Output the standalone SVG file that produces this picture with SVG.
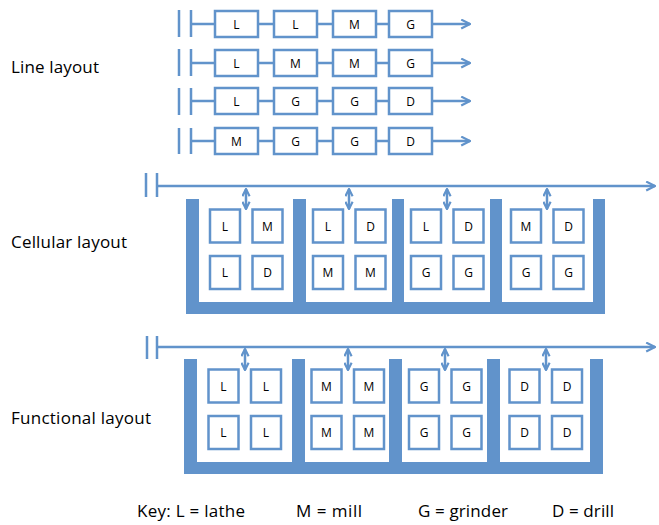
<svg xmlns="http://www.w3.org/2000/svg" width="659" height="525" viewBox="0 0 659 525">
<defs>
<style>
.ln{stroke:#6193CB;stroke-width:2.5;fill:none}
.box{fill:#fff;stroke:#6193CB;stroke-width:2.5}
.wall{fill:#6193CB}
.t{font-family:"Open Sans","Liberation Sans",sans-serif;font-size:12px;fill:#000;text-anchor:middle}
.lbl{font-family:"Open Sans","Liberation Sans",sans-serif;font-size:17px;fill:#000}
</style>
<marker id="ah" viewBox="0 0 10 10" refX="9" refY="5" markerWidth="11" markerHeight="11" markerUnits="userSpaceOnUse" orient="auto">
<path d="M1,1 L9,5 L1,9" fill="none" stroke="#6193CB" stroke-width="2"/>
</marker>
<marker id="dh" viewBox="0 0 10 10" refX="9" refY="5" markerWidth="9" markerHeight="9" markerUnits="userSpaceOnUse" orient="auto-start-reverse">
<path d="M1,1 L9,5 L1,9" fill="none" stroke="#6193CB" stroke-width="2.4"/>
</marker>
</defs>
<rect width="659" height="525" fill="#fff"/>

<g id="labels">
<text class="lbl" x="11" y="73" textLength="88">Line layout</text>
<text class="lbl" x="11" y="248" textLength="116">Cellular layout</text>
<text class="lbl" x="11" y="424" textLength="140">Functional layout</text>
</g>

<g id="connectors">
<path class="ln" d="M179,10V37 M191,10V37 M191,24H215 M258,24H274 M317,24H333 M376,24H389"/>
<path class="ln" d="M432,24H470" marker-end="url(#ah)"/>
<path class="ln" d="M179,49V76 M191,49V76 M191,63H215 M258,63H274 M317,63H333 M376,63H389"/>
<path class="ln" d="M432,63H470" marker-end="url(#ah)"/>
<path class="ln" d="M179,88V115 M191,88V115 M191,101H215 M258,101H274 M317,101H333 M376,101H389"/>
<path class="ln" d="M432,101H470" marker-end="url(#ah)"/>
<path class="ln" d="M179,128V154 M191,128V154 M191,141H215 M258,141H274 M317,141H333 M376,141H389"/>
<path class="ln" d="M432,141H470" marker-end="url(#ah)"/>
<path class="ln" d="M146,173V197 M157,173V197"/>
<path class="ln" d="M157,186H655" marker-end="url(#ah)"/>
<path class="ln" d="M246,189V209" marker-start="url(#dh)" marker-end="url(#dh)"/>
<path class="ln" d="M349,189V209" marker-start="url(#dh)" marker-end="url(#dh)"/>
<path class="ln" d="M447,189V209" marker-start="url(#dh)" marker-end="url(#dh)"/>
<path class="ln" d="M547,189V209" marker-start="url(#dh)" marker-end="url(#dh)"/>
<path class="ln" d="M147,336V359 M157,336V359"/>
<path class="ln" d="M157,347H655" marker-end="url(#ah)"/>
<path class="ln" d="M245,349V370" marker-start="url(#dh)" marker-end="url(#dh)"/>
<path class="ln" d="M348,349V370" marker-start="url(#dh)" marker-end="url(#dh)"/>
<path class="ln" d="M445,349V370" marker-start="url(#dh)" marker-end="url(#dh)"/>
<path class="ln" d="M546,349V370" marker-start="url(#dh)" marker-end="url(#dh)"/>
</g>

<g id="line-row1">
<rect class="box" x="215" y="11" width="43" height="26"/><text class="t" x="236.5" y="28.5">L</text>
<rect class="box" x="274" y="11" width="43" height="26"/><text class="t" x="295.5" y="28.5">L</text>
<rect class="box" x="333" y="11" width="43" height="26"/><text class="t" x="354.5" y="28.5">M</text>
<rect class="box" x="389" y="11" width="43" height="26"/><text class="t" x="410.5" y="28.5">G</text>
</g>
<g id="line-row2">
<rect class="box" x="215" y="50" width="43" height="26"/><text class="t" x="236.5" y="67.5">L</text>
<rect class="box" x="274" y="50" width="43" height="26"/><text class="t" x="295.5" y="67.5">M</text>
<rect class="box" x="333" y="50" width="43" height="26"/><text class="t" x="354.5" y="67.5">M</text>
<rect class="box" x="389" y="50" width="43" height="26"/><text class="t" x="410.5" y="67.5">G</text>
</g>
<g id="line-row3">
<rect class="box" x="215" y="88" width="43" height="26"/><text class="t" x="236.5" y="105.5">L</text>
<rect class="box" x="274" y="88" width="43" height="26"/><text class="t" x="295.5" y="105.5">G</text>
<rect class="box" x="333" y="88" width="43" height="26"/><text class="t" x="354.5" y="105.5">G</text>
<rect class="box" x="389" y="88" width="43" height="26"/><text class="t" x="410.5" y="105.5">D</text>
</g>
<g id="line-row4">
<rect class="box" x="215" y="128" width="43" height="26"/><text class="t" x="236.5" y="145.5">M</text>
<rect class="box" x="274" y="128" width="43" height="26"/><text class="t" x="295.5" y="145.5">G</text>
<rect class="box" x="333" y="128" width="43" height="26"/><text class="t" x="354.5" y="145.5">G</text>
<rect class="box" x="389" y="128" width="43" height="26"/><text class="t" x="410.5" y="145.5">D</text>
</g>

<g id="cellular-walls">
<rect class="wall" x="186" y="199" width="13" height="115"/>
<rect class="wall" x="293" y="199" width="13" height="115"/>
<rect class="wall" x="392" y="199" width="12" height="115"/>
<rect class="wall" x="490" y="199" width="12" height="115"/>
<rect class="wall" x="593" y="199" width="12" height="115"/>
<rect class="wall" x="186" y="302" width="419" height="12"/>
</g>
<g id="cell-1">
<rect class="box" x="210" y="209.5" width="30" height="33"/><text class="t" x="225" y="230.5">L</text>
<rect class="box" x="252.5" y="209.5" width="30" height="33"/><text class="t" x="267.5" y="230.5">M</text>
<rect class="box" x="210" y="256" width="30" height="33"/><text class="t" x="225" y="277">L</text>
<rect class="box" x="252.5" y="256" width="30" height="33"/><text class="t" x="267.5" y="277">D</text>
</g>
<g id="cell-2">
<rect class="box" x="313" y="209.5" width="30" height="33"/><text class="t" x="328" y="230.5">L</text>
<rect class="box" x="355.5" y="209.5" width="30" height="33"/><text class="t" x="370.5" y="230.5">D</text>
<rect class="box" x="313" y="256" width="30" height="33"/><text class="t" x="328" y="277">M</text>
<rect class="box" x="355.5" y="256" width="30" height="33"/><text class="t" x="370.5" y="277">M</text>
</g>
<g id="cell-3">
<rect class="box" x="411" y="209.5" width="30" height="33"/><text class="t" x="426" y="230.5">L</text>
<rect class="box" x="453.5" y="209.5" width="30" height="33"/><text class="t" x="468.5" y="230.5">D</text>
<rect class="box" x="411" y="256" width="30" height="33"/><text class="t" x="426" y="277">G</text>
<rect class="box" x="453.5" y="256" width="30" height="33"/><text class="t" x="468.5" y="277">G</text>
</g>
<g id="cell-4">
<rect class="box" x="511" y="209.5" width="30" height="33"/><text class="t" x="526" y="230.5">M</text>
<rect class="box" x="553.5" y="209.5" width="30" height="33"/><text class="t" x="568.5" y="230.5">D</text>
<rect class="box" x="511" y="256" width="30" height="33"/><text class="t" x="526" y="277">G</text>
<rect class="box" x="553.5" y="256" width="30" height="33"/><text class="t" x="568.5" y="277">G</text>
</g>

<g id="functional-walls">
<rect class="wall" x="184" y="359" width="13" height="115"/>
<rect class="wall" x="292" y="359" width="13" height="115"/>
<rect class="wall" x="389" y="359" width="13" height="115"/>
<rect class="wall" x="487" y="359" width="13" height="115"/>
<rect class="wall" x="590" y="359" width="13" height="115"/>
<rect class="wall" x="184" y="462" width="419" height="12"/>
</g>
<g id="dept-lathe">
<rect class="box" x="208.5" y="369.5" width="30" height="33"/><text class="t" x="223.5" y="390.5">L</text>
<rect class="box" x="251" y="369.5" width="30" height="33"/><text class="t" x="266" y="390.5">L</text>
<rect class="box" x="208.5" y="416" width="30" height="33"/><text class="t" x="223.5" y="437">L</text>
<rect class="box" x="251" y="416" width="30" height="33"/><text class="t" x="266" y="437">L</text>
</g>
<g id="dept-mill">
<rect class="box" x="311.5" y="369.5" width="30" height="33"/><text class="t" x="326.5" y="390.5">M</text>
<rect class="box" x="354" y="369.5" width="30" height="33"/><text class="t" x="369" y="390.5">M</text>
<rect class="box" x="311.5" y="416" width="30" height="33"/><text class="t" x="326.5" y="437">M</text>
<rect class="box" x="354" y="416" width="30" height="33"/><text class="t" x="369" y="437">M</text>
</g>
<g id="dept-grinder">
<rect class="box" x="409" y="369.5" width="30" height="33"/><text class="t" x="424" y="390.5">G</text>
<rect class="box" x="451.5" y="369.5" width="30" height="33"/><text class="t" x="466.5" y="390.5">G</text>
<rect class="box" x="409" y="416" width="30" height="33"/><text class="t" x="424" y="437">G</text>
<rect class="box" x="451.5" y="416" width="30" height="33"/><text class="t" x="466.5" y="437">G</text>
</g>
<g id="dept-drill">
<rect class="box" x="509.5" y="369.5" width="30" height="33"/><text class="t" x="524.5" y="390.5">D</text>
<rect class="box" x="552" y="369.5" width="30" height="33"/><text class="t" x="567" y="390.5">D</text>
<rect class="box" x="509.5" y="416" width="30" height="33"/><text class="t" x="524.5" y="437">D</text>
<rect class="box" x="552" y="416" width="30" height="33"/><text class="t" x="567" y="437">D</text>
</g>

<g id="key">
<text class="lbl" x="137" y="517" textLength="108">Key: L = lathe</text>
<text class="lbl" x="296" y="517" textLength="66">M = mill</text>
<text class="lbl" x="418" y="517" textLength="90">G = grinder</text>
<text class="lbl" x="552" y="517" textLength="62">D = drill</text>
</g>
</svg>
